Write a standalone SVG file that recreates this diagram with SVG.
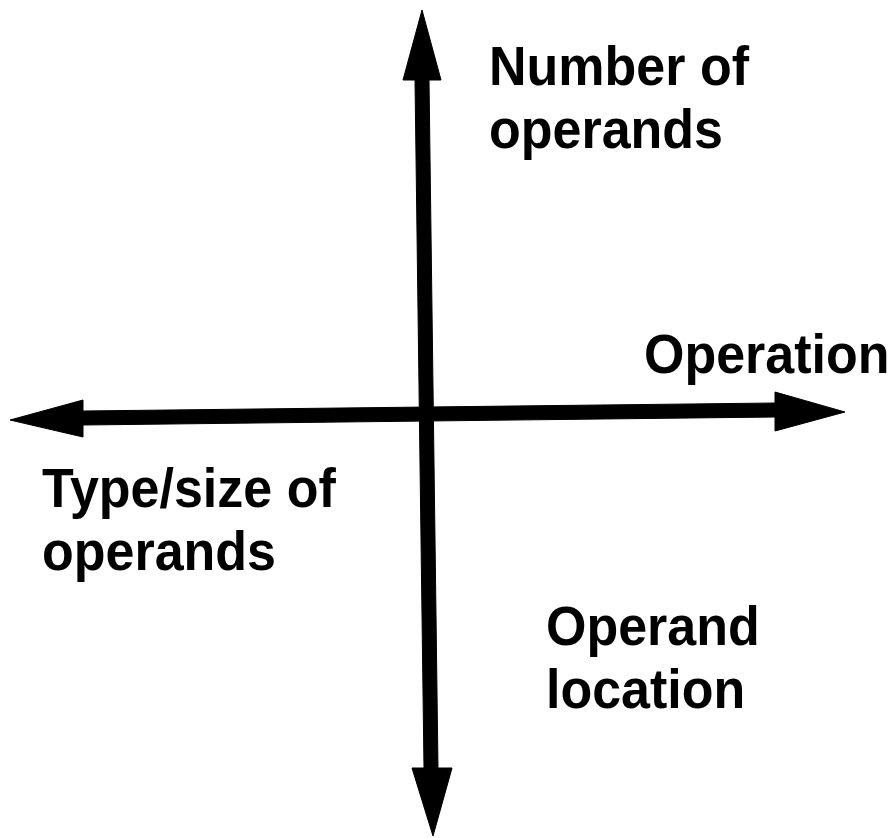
<svg xmlns="http://www.w3.org/2000/svg" width="892" height="838" viewBox="0 0 892 838">
<style>
.lbl{font-family:"Liberation Sans",Arial,Helvetica,sans-serif;font-weight:bold;font-size:52px;fill:#000}
.ax{fill:#000;stroke:#000;stroke-width:1;stroke-linejoin:round}
</style>
<rect width="892" height="838" fill="#fff"/>
<g id="connectors">
<polygon class="ax" points="415,80 429,80 438,768 424,768"/>
<polygon class="ax" points="422,10 441,80 403,80"/>
<polygon class="ax" points="412,768 452,768 433,836"/>
<polygon class="ax" points="83,411 775,403 775,417 83,425"/>
<polygon class="ax" points="10,420 83,400 83,437"/>
<polygon class="ax" points="845,412 775,392 775,431"/>
</g>
<g id="node-number-of-operands">
<text class="lbl" transform="translate(489,85) scale(1,1.08)">Number of</text>
<text class="lbl" transform="translate(489,148) scale(1,1.08)">operands</text>
</g>
<g id="node-operation">
<text class="lbl" transform="translate(644,373) scale(1,1.08)">Operation</text>
</g>
<g id="node-type-size">
<text class="lbl" transform="translate(42,507) scale(1,1.08)">Type/size of</text>
<text class="lbl" transform="translate(42,570) scale(1,1.08)">operands</text>
</g>
<g id="node-operand-location">
<text class="lbl" transform="translate(546,645) scale(1,1.08)">Operand</text>
<text class="lbl" transform="translate(546,708) scale(1,1.08)">location</text>
</g>
</svg>
